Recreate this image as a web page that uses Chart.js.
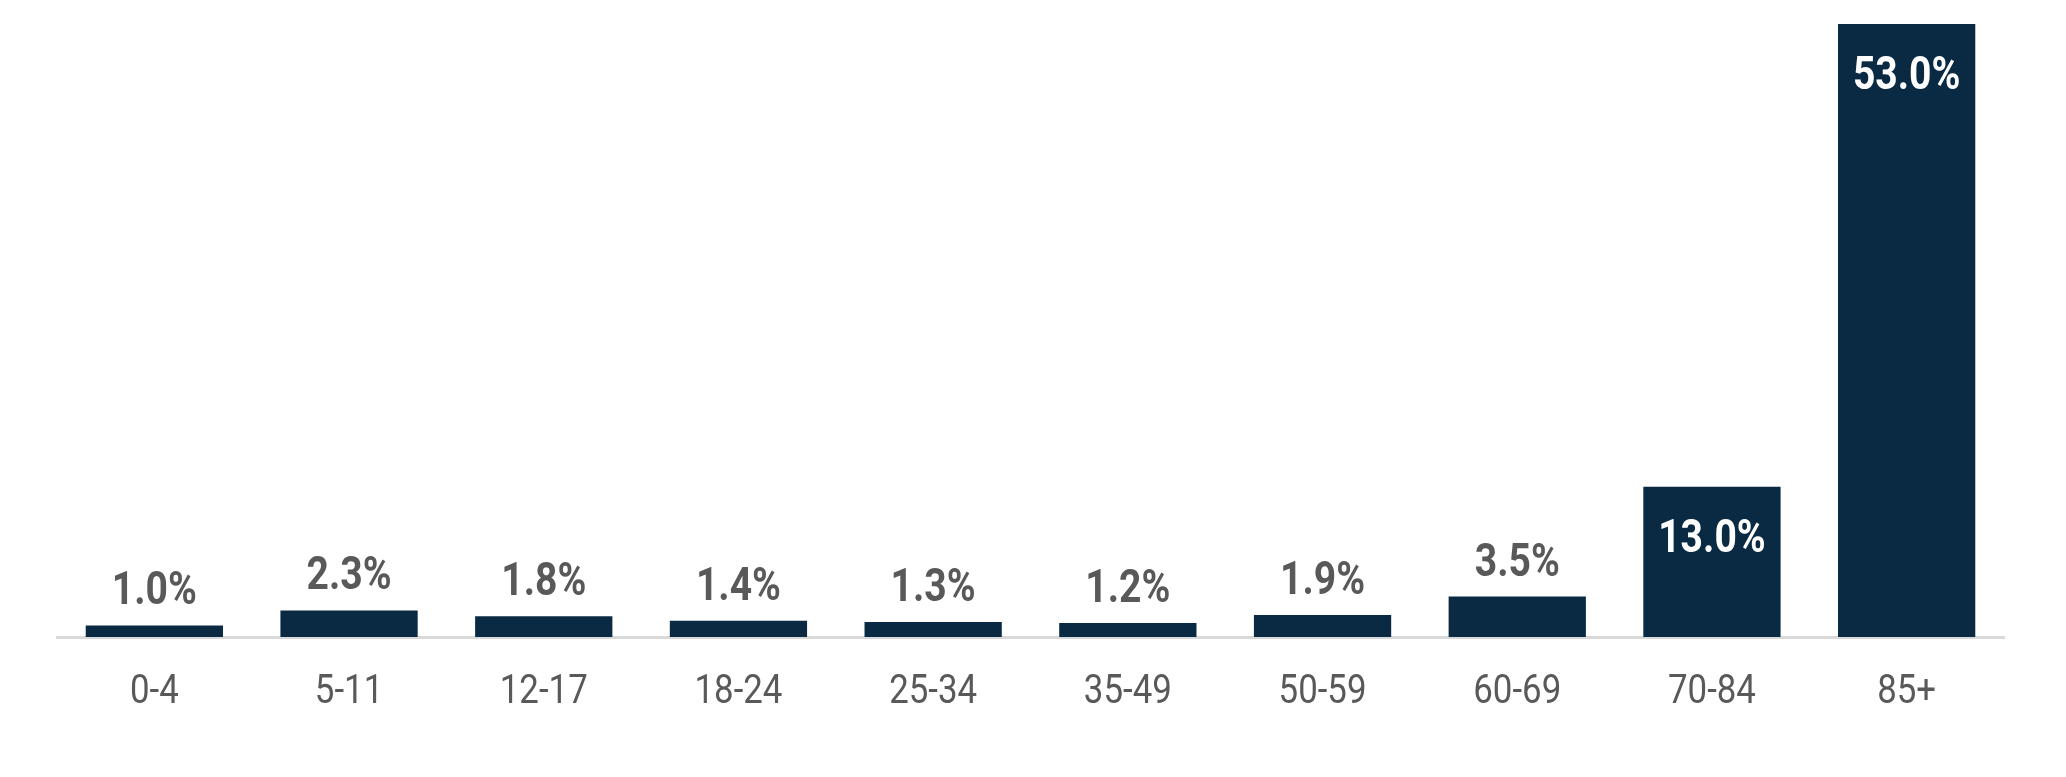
<!DOCTYPE html>
<html>
<head>
<meta charset="utf-8">
<script src="https://cdn.jsdelivr.net/npm/chart.js@4/dist/chart.umd.min.js"></script>
<style>
  html, body { margin: 0; padding: 0; background: #fff; }
  canvas { display: block; }
</style>
</head>
<body>
<canvas id="chart" width="2066" height="777"></canvas>
<script>
const ageGroups = ["0-4", "5-11", "12-17", "18-24", "25-34", "35-49", "50-59", "60-69", "70-84", "85+"];
const shares = [1.0, 2.3, 1.8, 1.4, 1.3, 1.2, 1.9, 3.5, 13.0, 53.0];

const navy = "#0a2a43";
const grey = "#595959";
const squeeze = 0.85; // fake a condensed face

// value labels + category labels, placed from the chart's own elements/scales
const labelPlugin = {
  id: "labels",
  afterDraw(chart) {
    const ctx = chart.ctx;
    const meta = chart.getDatasetMeta(0);
    const xScale = chart.scales.x;

    ctx.save();
    ctx.textAlign = "center";
    ctx.textBaseline = "alphabetic";

    meta.data.forEach((bar, i) => {
      const v = shares[i];
      const inside = v > 5;
      ctx.font = "bold 46px Roboto";
      ctx.fillStyle = inside ? "#ffffff" : grey;
      const y = inside ? bar.y + 65 : bar.y - 21;
      ctx.save();
      ctx.translate(bar.x, y);
      ctx.scale(squeeze, 1);
      ctx.fillText(v.toFixed(1) + "%", 0, 0);
      ctx.restore();
    });

    ctx.font = "400 41px Roboto";
    ctx.fillStyle = grey;
    ageGroups.forEach((lab, i) => {
      ctx.save();
      ctx.translate(xScale.getPixelForTick(i), 703);
      ctx.scale(squeeze, 1);
      ctx.fillText(lab, 0, 0);
      ctx.restore();
    });
    ctx.restore();
  }
};

new Chart(document.getElementById("chart"), {
  type: "bar",
  data: {
    labels: ageGroups,
    datasets: [
      {
        data: shares,
        backgroundColor: navy,
        borderWidth: 0,
        categoryPercentage: 1,
        barPercentage: 0.705,
      },
    ],
  },
  options: {
    responsive: false,
    devicePixelRatio: 1,
    animation: false,
    layout: {
      padding: { left: 57, right: 62, top: 24, bottom: 132 },
    },
    plugins: {
      legend: { display: false },
      tooltip: { enabled: false },
    },
    scales: {
      x: {
        grid: { display: false },
        ticks: { display: false },
        border: { display: true, color: "#d9d9d9", width: 3 },
      },
      y: {
        display: false,
        min: 0,
        max: 53,
      },
    },
  },
  plugins: [labelPlugin],
});
</script>
</body>
</html>
